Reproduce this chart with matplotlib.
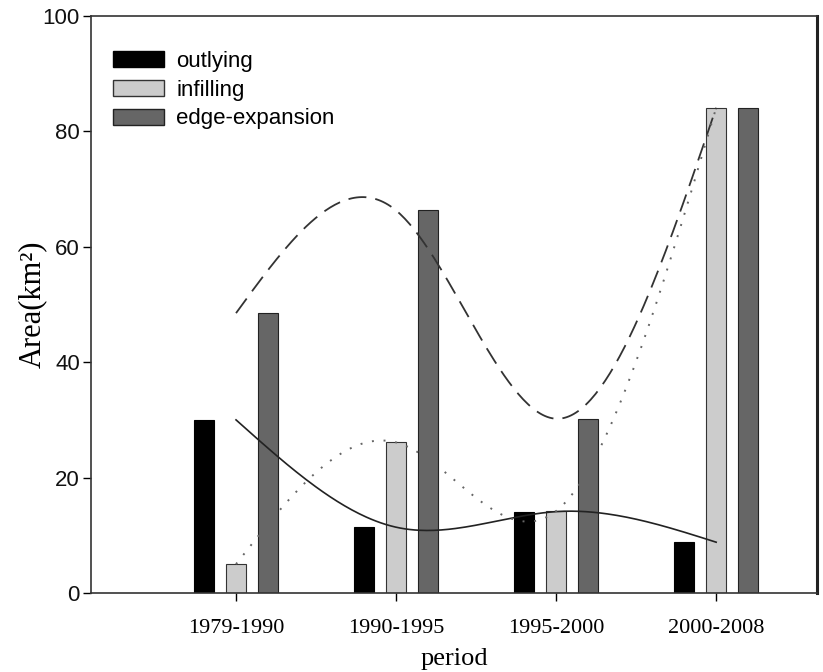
import numpy as np
import matplotlib.pyplot as plt
from matplotlib.patches import Patch

# Data
periods = ["1979-1990", "1990-1995", "1995-2000", "2000-2008"]
outlying = [30.0, 11.4, 14.1, 8.8]
infilling = [5.0, 26.1, 14.2, 84.1]
edge_expansion = [48.5, 66.3, 30.2, 84.1]


def natural_spline(xs, ys, n=200):
    """Natural cubic spline through the data points (used for the trend curves)"""
    xs = np.asarray(xs, float)
    ys = np.asarray(ys, float)
    k = len(xs)
    h = np.diff(xs)
    A = np.zeros((k, k))
    b = np.zeros(k)
    A[0, 0] = A[-1, -1] = 1.0
    for i in range(1, k - 1):
        A[i, i - 1] = h[i - 1]
        A[i, i] = 2 * (h[i - 1] + h[i])
        A[i, i + 1] = h[i]
        b[i] = 6 * ((ys[i + 1] - ys[i]) / h[i] - (ys[i] - ys[i - 1]) / h[i - 1])
    M = np.linalg.solve(A, b)
    xx = np.linspace(xs[0], xs[-1], n)
    yy = np.empty_like(xx)
    for j, x in enumerate(xx):
        i = min(np.searchsorted(xs, x, side="right") - 1, k - 2)
        t0 = xs[i + 1] - x
        t1 = x - xs[i]
        yy[j] = (M[i] * t0**3 + M[i + 1] * t1**3) / (6 * h[i]) \
            + (ys[i] / h[i] - M[i] * h[i] / 6) * t0 \
            + (ys[i + 1] / h[i] - M[i + 1] * h[i] / 6) * t1
    return xx, yy


x = np.arange(1, len(periods) + 1)
w = 0.125
off = 0.2

fig = plt.figure(figsize=(8.23, 6.72), dpi=100)
ax = fig.add_axes([0.1106, 0.1176, 0.8821, 0.8586])

ax.bar(x - off, outlying, w, color="black", edgecolor="black", linewidth=0.8, label="outlying")
ax.bar(x, infilling, w, color="#cccccc", edgecolor="#333333", linewidth=0.8, label="infilling")
ax.bar(x + off, edge_expansion, w, color="#666666", edgecolor="#222222", linewidth=0.8,
       label="edge-expansion")

# trend curves
xs, ys = natural_spline(x, outlying)
ax.plot(xs, ys, color="#222222", lw=1.2, ls="-")
xs, ys = natural_spline(x, edge_expansion)
ax.plot(xs, ys, color="#333333", lw=1.3, ls=(0, (10, 5)))
xs, ys = natural_spline(x, infilling)
ax.plot(xs, ys, color="#666666", lw=1.4, ls=(0, (1, 5)))

ax.set_xlim(0.094, 4.63)
ax.set_ylim(0, 100)
ax.set_xticks(x)
ax.set_xticklabels(periods, family="Liberation Serif", fontsize=16)
ax.set_yticks([0, 20, 40, 60, 80, 100])
ax.tick_params(axis="y", labelsize=16, length=6, width=1.0, pad=2, labelcolor="#111111")
ax.tick_params(axis="x", length=6, width=1.0, pad=13)
for lab in ax.get_yticklabels():
    lab.set_family("Liberation Sans")

ax.set_xlabel("period", family="Liberation Serif", fontsize=19, labelpad=7)
ax.set_ylabel("Area(km²)", family="Liberation Serif", fontsize=22, labelpad=-3)

for s in ["left", "bottom", "top"]:
    ax.spines[s].set_linewidth(1.2)
    ax.spines[s].set_color("#333333")
ax.spines["right"].set_linewidth(2.2)
ax.spines["right"].set_color("#222222")

handles = [Patch(facecolor="black", edgecolor="black", label="outlying"),
           Patch(facecolor="#cccccc", edgecolor="#333333", label="infilling"),
           Patch(facecolor="#666666", edgecolor="#222222", label="edge-expansion")]
ax.legend(handles=handles, loc="upper left", frameon=False,
          prop={"family": "Liberation Sans", "size": 16},
          handlelength=2.3, handleheight=0.75, labelspacing=0.35,
          handletextpad=0.55, borderaxespad=0.0, bbox_to_anchor=(0.018, 0.955))

fig.savefig("out.png", dpi=100)
